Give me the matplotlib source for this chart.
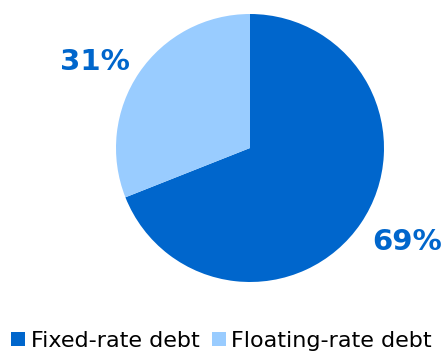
import matplotlib.pyplot as plt

labels = ["Fixed-rate debt", "Floating-rate debt"]
shares = [69, 31]
colors = ["#0066CC", "#99CCFF"]

fig = plt.figure(figsize=(4.43, 3.52), dpi=100)
ax = fig.add_axes([116 / 443, 70 / 352, 268 / 443, 268 / 352])
wedges, _ = ax.pie(shares, colors=colors, startangle=90, counterclock=False,
                   wedgeprops=dict(linewidth=0))
ax.set_aspect("equal")
ax.set_xlim(-1, 1)
ax.set_ylim(-1, 1)

# percentage labels outside the slices
label_pos = [(1.17, -0.70), (-1.155, 0.645)]
for (x, y), v in zip(label_pos, shares):
    ax.text(x, y, f"{v}%", ha="center", va="center", fontsize=21,
            fontweight="bold", color="#0066CC", clip_on=False)

fig.legend(wedges, labels, loc="lower center", bbox_to_anchor=(0.5, 0.0),
           ncol=2, frameon=False, fontsize=16, handlelength=0.63,
           handleheight=0.55, handletextpad=0.25, columnspacing=0.55,
           borderaxespad=0, borderpad=0.05)

fig.savefig("out.png", dpi=100)
